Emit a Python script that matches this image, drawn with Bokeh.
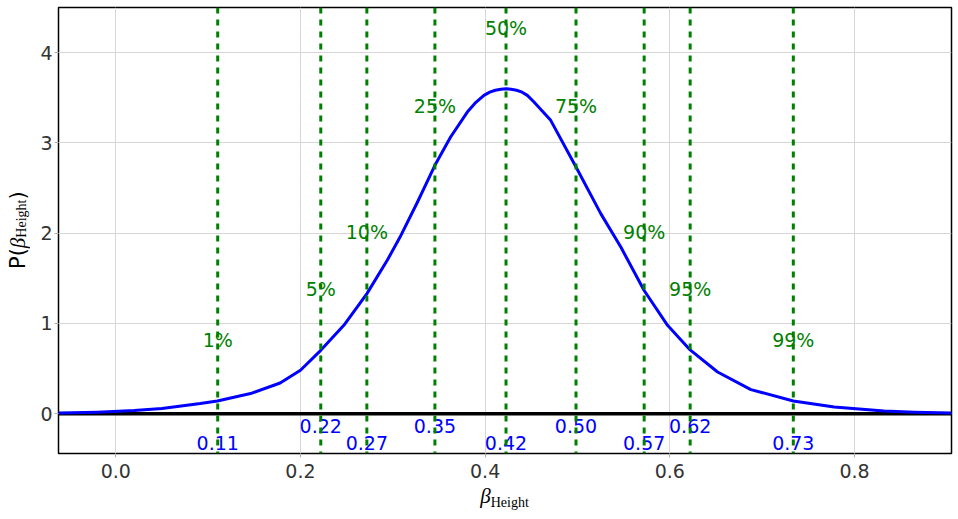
from bokeh.plotting import figure
from bokeh.models import Span, Range1d, FixedTicker, NumeralTickFormatter, Div
from bokeh.layouts import row, column
from bokeh.embed import file_html
from bokeh.resources import INLINE
from bokeh.core.properties import value

# density curve
curve_x = [-0.062, -0.02, 0.02, 0.05, 0.0916, 0.110, 0.146, 0.178, 0.200, 0.222,
           0.247, 0.272, 0.294, 0.308, 0.3265, 0.3456, 0.3626, 0.3807, 0.390, 0.3987,
           0.405, 0.411, 0.417, 0.4225, 0.428, 0.434, 0.440, 0.4457, 0.4529, 0.471,
           0.4984, 0.5252, 0.5469, 0.572, 0.5975, 0.622, 0.6517, 0.6878, 0.7337,
           0.778, 0.832, 0.865, 0.905]
curve_y = [0.009, 0.018, 0.035, 0.058, 0.113, 0.142, 0.224, 0.341, 0.482, 0.703,
           0.980, 1.331, 1.700, 1.960, 2.340, 2.752, 3.066, 3.342, 3.450, 3.527,
           3.562, 3.583, 3.595, 3.600, 3.595, 3.583, 3.562, 3.527, 3.453, 3.250,
           2.733, 2.217, 1.847, 1.368, 0.980, 0.707, 0.463, 0.268, 0.142,
           0.075, 0.031, 0.018, 0.009]

# quantiles
quantile_pct = ["1%", "5%", "10%", "25%", "50%", "75%", "90%", "95%", "99%"]
quantile_x = [0.1104, 0.2220, 0.2719, 0.3456, 0.4226, 0.4984, 0.5722, 0.6220, 0.7337]
quantile_text = ["0.11", "0.22", "0.27", "0.35", "0.42", "0.50", "0.57", "0.62", "0.73"]
pct_label_y = [0.82, 1.38, 2.01, 3.41, 4.27, 3.41, 2.01, 1.38, 0.82]
value_label_y = [-0.32, -0.14, -0.32, -0.14, -0.32, -0.14, -0.32, -0.14, -0.32]

x_ticks = [0.0, 0.2, 0.4, 0.6, 0.8]
y_ticks = [0, 1, 2, 3, 4]

FONT = "DejaVu Sans"
FS = "19px"

p = figure(width=924, height=485, x_range=Range1d(-0.062, 0.905),
           y_range=Range1d(-0.44, 4.5), output_backend="svg", toolbar_location=None,
           min_border_left=26, min_border_right=5, min_border_top=7, min_border_bottom=32)
p.background_fill_color = "white"
p.border_fill_color = "white"
p.outline_line_color = "black"
p.outline_line_width = 1.5

xax = p.below[0]
yax = p.left[0]
for ax in (xax, yax):
    ax.axis_line_color = None
    ax.major_tick_out = 4
    ax.major_tick_in = 0
    ax.minor_tick_line_color = None
    ax.major_tick_line_color = "#b0b0b0"
    ax.major_label_text_font = FONT
    ax.major_label_text_font_size = FS
    ax.major_label_text_color = "#333333"
xax.major_label_standoff = 6
yax.major_label_standoff = 2
xax.ticker = FixedTicker(ticks=x_ticks)
yax.ticker = FixedTicker(ticks=y_ticks)
xax.formatter = NumeralTickFormatter(format="0.0")
yax.formatter = NumeralTickFormatter(format="0")
p.xgrid.ticker = FixedTicker(ticks=x_ticks)
p.ygrid.ticker = FixedTicker(ticks=y_ticks)
p.xgrid.grid_line_color = "#d6d6d6"
p.ygrid.grid_line_color = "#d6d6d6"

p.add_layout(Span(location=0, dimension="width", line_color="black", line_width=3.5,
                  level="underlay"))
p.line(curve_x, curve_y, line_color="#0000ff", line_width=3, line_join="round")

p.text(x=quantile_x, y=pct_label_y, text=quantile_pct, text_align="center",
       text_baseline="alphabetic", text_color="#008000", text_font=value(FONT),
       text_font_size=FS)
p.text(x=quantile_x, y=value_label_y, text=quantile_text, text_align="center",
       text_baseline="alphabetic", text_color="#0000ff", text_font=value(FONT),
       text_font_size=FS)

for qx in quantile_x:
    p.add_layout(Span(location=qx, dimension="height", line_color="#008000",
                      line_width=3, line_dash="6 6"))

SERIF = "'Liberation Serif', serif"
sym_html = ('<span style="font-family:%s;font-style:italic;font-size:21px">β</span>'
            '<span style="font-family:%s;font-size:14px;vertical-align:-4px">Height</span>'
            % (SERIF, SERIF))

# y axis label  P(beta_Height), reading upward
ylab = Div(text='<span style="font-family:\'DejaVu Sans\';font-size:21px">P(</span>' + sym_html +
                '<span style="font-family:\'DejaVu Sans\';font-size:21px">)</span>',
           width=28, height=460, margin=(0, 0, 0, 4),
           styles={"writing-mode": "vertical-rl", "transform": "rotate(180deg)",
                   "text-align": "center", "line-height": "28px", "color": "black",
                   "white-space": "nowrap"})

# x axis label  beta_Height
xlab = Div(text=sym_html, width=893, height=30, margin=(-2, 0, 0, 58),
           styles={"text-align": "center", "line-height": "26px", "color": "black",
                   "white-space": "nowrap"})

layout = column(row(ylab, p), xlab)
open("out.html", "w").write(file_html(layout, INLINE))
